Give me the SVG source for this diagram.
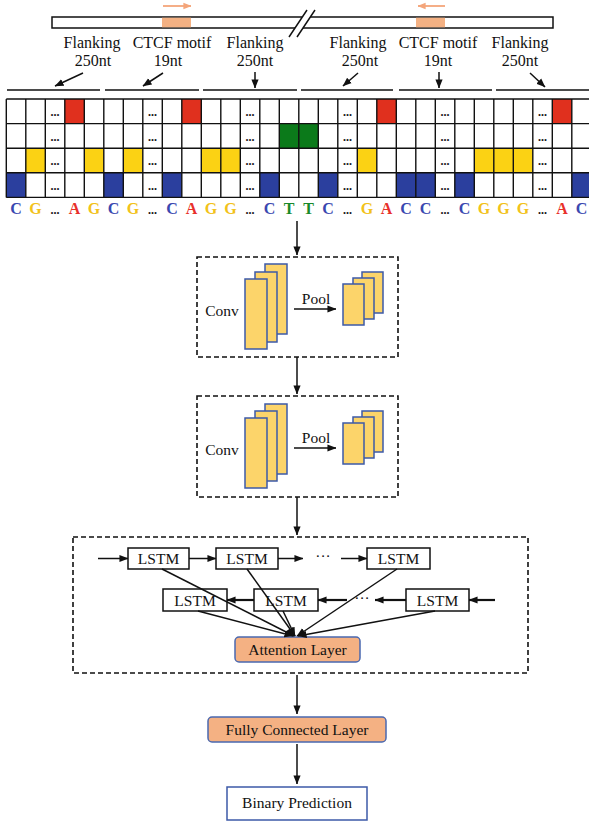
<svg xmlns="http://www.w3.org/2000/svg" width="589" height="822" viewBox="0 0 589 822">
<style>
text{font-family:"Liberation Serif","Times New Roman",serif;fill:#111}
.lbl{font-size:16px;text-anchor:middle}
.nt{font-size:15.5px;text-anchor:middle}
.base{font-size:16px;font-weight:bold;text-anchor:middle}
.dots{font-size:12px;font-weight:bold;text-anchor:middle}
.ln{stroke:#111;stroke-width:1.5;fill:none}
.arr{stroke:#111;stroke-width:1.5;fill:none;marker-end:url(#ah)}
.arrb{stroke:#111;stroke-width:2.2;fill:none;marker-end:url(#ah)}
.dash{fill:none;stroke:#111;stroke-width:1.6;stroke-dasharray:5,3}
.fm{fill:#fcd46a;stroke:#3d5aa8;stroke-width:1.5}
.box{fill:#fff;stroke:#111;stroke-width:1.5}
.obox{fill:#f4b183;stroke:#4a68b0;stroke-width:1.5}
.bl{fill:#2b3f9e}.ye{fill:#fbd214}.re{fill:#e0301e}.gr{fill:#0b7a1a}
.cC{fill:#3a48b0}.cG{fill:#f2c21a}.cA{fill:#e8302a}.cT{fill:#1a8a2a}
</style>
<defs>
<marker id="ah" viewBox="0 0 10 10" refX="9.5" refY="5" markerWidth="9" markerHeight="9" markerUnits="userSpaceOnUse" orient="auto"><path d="M0,1 L10,5 L0,9 z" fill="#111"/></marker>
<marker id="ao" viewBox="0 0 10 10" refX="9.5" refY="5" markerWidth="8" markerHeight="8" markerUnits="userSpaceOnUse" orient="auto"><path d="M0,1 L10,5 L0,9 z" fill="#f4a57a"/></marker>
</defs>

<!-- genome bar -->
<g id="genome">
<path class="ln" d="M302,17 H52 V28 H295"/>
<path class="ln" d="M310,17 H553 V28 H303"/>
<rect x="162" y="17.7" width="29" height="9.6" fill="#f4b183"/>
<rect x="416" y="17.7" width="29" height="9.6" fill="#f4b183"/>
<path class="ln" d="M289,37 L307,10 M297,37 L315,10"/>
<line x1="163" y1="6" x2="191" y2="6" stroke="#f4a57a" stroke-width="1.8" marker-end="url(#ao)"/>
<line x1="445" y1="6" x2="418" y2="6" stroke="#f4a57a" stroke-width="1.8" marker-end="url(#ao)"/>
</g>

<g id="labels">
<text class="lbl" x="92" y="48">Flanking</text><text class="lbl" x="93" y="66">250nt</text>
<text class="lbl" x="172" y="48">CTCF motif</text><text class="lbl" x="168" y="66">19nt</text>
<text class="lbl" x="255" y="48">Flanking</text><text class="lbl" x="255" y="66">250nt</text>
<text class="lbl" x="358" y="48">Flanking</text><text class="lbl" x="360" y="66">250nt</text>
<text class="lbl" x="438" y="48">CTCF motif</text><text class="lbl" x="438" y="66">19nt</text>
<text class="lbl" x="520" y="48">Flanking</text><text class="lbl" x="520" y="66">250nt</text>
</g>

<g id="segments">
<path class="ln" d="M7,90 H100 M105,90 H199 M203,90 H297 M301,90 H393 M399,90 H492 M496,90 H589"/>
</g>

<!-- one-hot grid -->
<g id="grid">
<rect x="6.3" y="99" width="585" height="98.4" fill="#fff"/>
<rect class="bl" x="6.3" y="172.8" width="19.5" height="24.6"/>
<rect class="ye" x="25.8" y="148.2" width="19.5" height="24.6"/>
<rect class="re" x="64.8" y="99" width="19.5" height="24.6"/>
<rect class="ye" x="84.3" y="148.2" width="19.5" height="24.6"/>
<rect class="bl" x="103.8" y="172.8" width="19.5" height="24.6"/>
<rect class="ye" x="123.3" y="148.2" width="19.5" height="24.6"/>
<rect class="bl" x="162.3" y="172.8" width="19.5" height="24.6"/>
<rect class="re" x="181.8" y="99" width="19.5" height="24.6"/>
<rect class="ye" x="201.3" y="148.2" width="39" height="24.6"/>
<rect class="bl" x="259.8" y="172.8" width="19.5" height="24.6"/>
<rect class="gr" x="279.3" y="123.6" width="39" height="24.6"/>
<rect class="bl" x="318.3" y="172.8" width="19.5" height="24.6"/>
<rect class="ye" x="357.3" y="148.2" width="19.5" height="24.6"/>
<rect class="re" x="376.8" y="99" width="19.5" height="24.6"/>
<rect class="bl" x="396.3" y="172.8" width="39" height="24.6"/>
<rect class="bl" x="454.8" y="172.8" width="19.5" height="24.6"/>
<rect class="ye" x="474.3" y="148.2" width="58.5" height="24.6"/>
<rect class="re" x="552.3" y="99" width="19.5" height="24.6"/>
<rect class="bl" x="571.8" y="172.8" width="19.5" height="24.6"/>
<path stroke="#111" stroke-width="1.4" fill="none" d="M6.3,99 H591 M6.3,123.6 H591 M6.3,148.2 H591 M6.3,172.8 H591 M6.3,197.4 H591
M6.3,99 V197.4 M25.8,99 V197.4 M45.3,99 V197.4 M64.8,99 V197.4 M84.3,99 V197.4 M103.8,99 V197.4 M123.3,99 V197.4 M142.8,99 V197.4 M162.3,99 V197.4 M181.8,99 V197.4 M201.3,99 V197.4 M220.8,99 V197.4 M240.3,99 V197.4 M259.8,99 V197.4 M279.3,99 V197.4 M298.8,99 V197.4 M318.3,99 V197.4 M337.8,99 V197.4 M357.3,99 V197.4 M376.8,99 V197.4 M396.3,99 V197.4 M415.8,99 V197.4 M435.3,99 V197.4 M454.8,99 V197.4 M474.3,99 V197.4 M493.8,99 V197.4 M513.3,99 V197.4 M532.8,99 V197.4 M552.3,99 V197.4 M571.8,99 V197.4"/>
<g class="dots">
<text class="dots" x="55" y="116">...</text><text class="dots" x="55" y="140.6">...</text><text class="dots" x="55" y="165.2">...</text><text class="dots" x="55" y="189.8">...</text>
<text class="dots" x="152.5" y="116">...</text><text class="dots" x="152.5" y="140.6">...</text><text class="dots" x="152.5" y="165.2">...</text><text class="dots" x="152.5" y="189.8">...</text>
<text class="dots" x="250" y="116">...</text><text class="dots" x="250" y="140.6">...</text><text class="dots" x="250" y="165.2">...</text><text class="dots" x="250" y="189.8">...</text>
<text class="dots" x="347.5" y="116">...</text><text class="dots" x="347.5" y="140.6">...</text><text class="dots" x="347.5" y="165.2">...</text><text class="dots" x="347.5" y="189.8">...</text>
<text class="dots" x="445" y="116">...</text><text class="dots" x="445" y="140.6">...</text><text class="dots" x="445" y="165.2">...</text><text class="dots" x="445" y="189.8">...</text>
<text class="dots" x="542.5" y="116">...</text><text class="dots" x="542.5" y="140.6">...</text><text class="dots" x="542.5" y="165.2">...</text><text class="dots" x="542.5" y="189.8">...</text>
</g>
</g>

<g id="sequence">
<text class="base cC" x="16" y="214">C</text>
<text class="base cG" x="35.5" y="214">G</text>
<text class="dots" x="55" y="214">...</text>
<text class="base cA" x="74.5" y="214">A</text>
<text class="base cG" x="94" y="214">G</text>
<text class="base cC" x="113.5" y="214">C</text>
<text class="base cG" x="133" y="214">G</text>
<text class="dots" x="152.5" y="214">...</text>
<text class="base cC" x="172" y="214">C</text>
<text class="base cA" x="191.5" y="214">A</text>
<text class="base cG" x="211" y="214">G</text>
<text class="base cG" x="230.5" y="214">G</text>
<text class="dots" x="250" y="214">...</text>
<text class="base cC" x="269.5" y="214">C</text>
<text class="base cT" x="289" y="214">T</text>
<text class="base cT" x="308.5" y="214">T</text>
<text class="base cC" x="328" y="214">C</text>
<text class="dots" x="347.5" y="214">...</text>
<text class="base cG" x="367" y="214">G</text>
<text class="base cA" x="386.5" y="214">A</text>
<text class="base cC" x="406" y="214">C</text>
<text class="base cC" x="425.5" y="214">C</text>
<text class="dots" x="445" y="214">...</text>
<text class="base cC" x="464.5" y="214">C</text>
<text class="base cG" x="484" y="214">G</text>
<text class="base cG" x="503.5" y="214">G</text>
<text class="base cG" x="523" y="214">G</text>
<text class="dots" x="542.5" y="214">...</text>
<text class="base cA" x="562" y="214">A</text>
<text class="base cC" x="581.5" y="214">C</text>
</g>

<!-- conv block 1 -->
<g id="conv1">
<rect class="dash" x="197" y="257" width="201" height="100"/>
<text class="nt" x="222" y="316">Conv</text>
<rect class="fm" x="265" y="264" width="22" height="70"/>
<rect class="fm" x="255" y="272" width="22" height="70"/>
<rect class="fm" x="245" y="279" width="22" height="70"/>
<text class="nt" x="316" y="304">Pool</text>
<rect class="fm" x="362" y="272" width="21" height="41"/>
<rect class="fm" x="353" y="278" width="21" height="41"/>
<rect class="fm" x="343" y="284" width="21" height="41"/>
</g>

<!-- conv block 2 -->
<g id="conv2">
<rect class="dash" x="197" y="396" width="201" height="101"/>
<text class="nt" x="222" y="455">Conv</text>
<rect class="fm" x="265" y="404" width="22" height="70"/>
<rect class="fm" x="255" y="411" width="22" height="70"/>
<rect class="fm" x="245" y="418" width="22" height="70"/>
<text class="nt" x="316" y="443">Pool</text>
<rect class="fm" x="362" y="411" width="21" height="41"/>
<rect class="fm" x="353" y="417" width="21" height="41"/>
<rect class="fm" x="343" y="423" width="21" height="41"/>
</g>

<!-- LSTM block -->
<g id="lstm-block">
<rect class="dash" x="73" y="537" width="455" height="136"/>
</g>
<g id="lstm-f1"><rect class="box" x="128" y="548" width="61" height="21"/><text class="nt" x="158.5" y="564">LSTM</text></g>
<g id="lstm-f2"><rect class="box" x="216" y="548" width="62" height="21"/><text class="nt" x="247" y="564">LSTM</text></g>
<g id="lstm-f3"><rect class="box" x="367" y="548" width="63" height="21"/><text class="nt" x="398.5" y="564">LSTM</text></g>
<g id="lstm-b1"><rect class="box" x="163" y="589" width="64" height="22"/><text class="nt" x="195" y="605.5">LSTM</text></g>
<g id="lstm-b2"><rect class="box" x="254" y="589" width="64" height="22"/><text class="nt" x="286" y="605.5">LSTM</text></g>
<g id="lstm-b3"><rect class="box" x="406" y="589" width="63" height="22"/><text class="nt" x="437.5" y="605.5">LSTM</text></g>
<g id="attention"><rect class="obox" x="235" y="637" width="125" height="25" rx="4"/><text class="nt" x="297.5" y="655">Attention Layer</text></g>
<g id="fc"><rect class="obox" x="208" y="717" width="178" height="25" rx="4"/><text class="nt" x="297" y="735">Fully Connected Layer</text></g>
<g id="pred"><rect x="227" y="787" width="140" height="33" fill="#fff" stroke="#3d5aa8" stroke-width="1.5"/><text class="nt" x="297" y="808">Binary Prediction</text></g>

<g id="connectors">
<!-- label arrows -->
<line class="arr" x1="83" y1="73" x2="55" y2="86"/>
<line class="arr" x1="163" y1="73" x2="143" y2="86"/>
<line class="arr" x1="255" y1="72" x2="255" y2="88"/>
<line class="arr" x1="358" y1="73" x2="343" y2="86"/>
<line class="arr" x1="439" y1="72" x2="439" y2="88"/>
<line class="arr" x1="530" y1="73" x2="545" y2="87"/>
<!-- main flow -->
<line class="arr" x1="297" y1="221" x2="297" y2="255"/>
<line class="arr" x1="297" y1="357" x2="297" y2="394"/>
<line class="arr" x1="297" y1="497" x2="297" y2="535"/>
<line class="arr" x1="297" y1="675" x2="297" y2="714"/>
<line class="arr" x1="297" y1="744" x2="297" y2="784"/>
<!-- pool arrows -->
<line class="arr" x1="294" y1="309" x2="336" y2="309"/>
<line class="arr" x1="294" y1="448" x2="336" y2="448"/>
<!-- forward LSTM -->
<line class="arr" x1="98" y1="558.5" x2="128" y2="558.5"/>
<line class="arr" x1="189" y1="558.5" x2="216" y2="558.5"/>
<line class="arr" x1="278" y1="558.5" x2="303" y2="558.5"/>
<text class="nt" x="323" y="561">···</text>
<line class="arr" x1="341" y1="558.5" x2="367" y2="558.5"/>
<!-- backward LSTM -->
<line class="arrb" x1="495" y1="600" x2="469" y2="600"/>
<line class="arrb" x1="406" y1="600" x2="375" y2="600"/>
<text class="nt" x="362" y="603">···</text>
<line class="arrb" x1="347" y1="600" x2="318" y2="600"/>
<line class="arrb" x1="254" y1="600" x2="227" y2="600"/>
<!-- to attention -->
<line class="arr" x1="162" y1="569" x2="294" y2="636"/>
<line class="arr" x1="247" y1="569" x2="295" y2="636"/>
<line class="arr" x1="397" y1="569" x2="297" y2="636"/>
<line class="arr" x1="198" y1="611" x2="293" y2="636"/>
<line class="arr" x1="283" y1="611" x2="295" y2="636"/>
<line class="arr" x1="435" y1="611" x2="298" y2="636"/>
</g>
</svg>
